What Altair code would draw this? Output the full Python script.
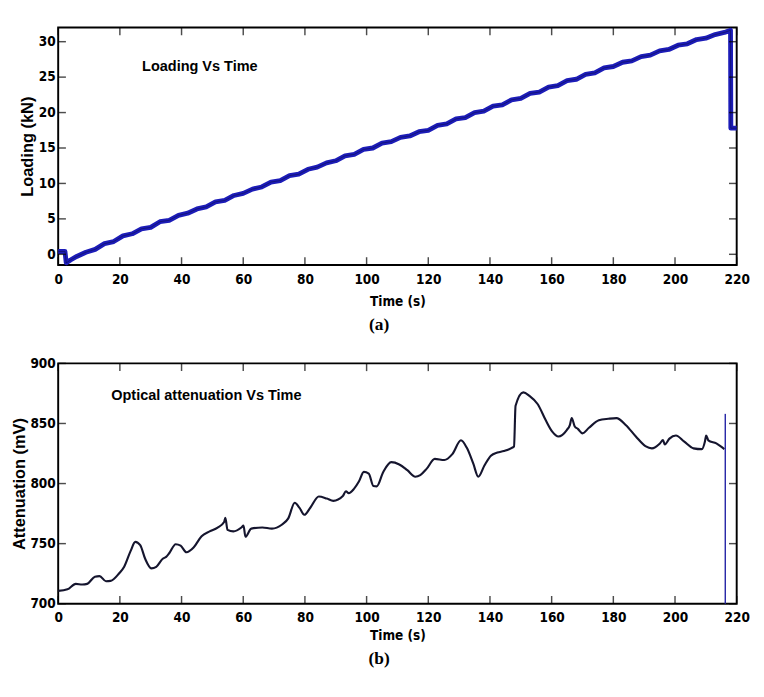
import altair as alt
import pandas as pd

# ---------------- data ----------------
load_t = [0, 2.2, 2.6, 3, 4, 6, 9, 12, 15, 18, 21, 24, 27, 30, 33, 36, 39, 42, 45, 48,
          51, 54, 57, 60, 63, 66, 69, 72, 75, 78, 81, 84, 87, 90, 93, 96, 99, 102, 105,
          108, 111, 114, 117, 120, 123, 126, 129, 132, 135, 138, 141, 144, 147, 150, 153,
          156, 159, 162, 165, 168, 171, 174, 177, 180, 183, 186, 189, 192, 195, 198, 201,
          204, 207, 210, 213, 216, 218, 218.1, 220]
load_kN = [0.4, 0.4, -1.2, -1.1, -0.8, -0.3, 0.3, 0.7, 1.5, 1.8, 2.6, 2.9, 3.6, 3.8, 4.6,
           4.8, 5.5, 5.8, 6.4, 6.7, 7.4, 7.6, 8.3, 8.6, 9.2, 9.5, 10.2, 10.4, 11.1, 11.3,
           12.0, 12.3, 12.9, 13.2, 13.9, 14.1, 14.8, 15.0, 15.7, 15.9, 16.5, 16.7, 17.3,
           17.5, 18.2, 18.4, 19.1, 19.3, 20.0, 20.2, 20.9, 21.1, 21.8, 22.0, 22.7, 22.9,
           23.6, 23.8, 24.5, 24.7, 25.4, 25.6, 26.3, 26.5, 27.1, 27.3, 27.9, 28.1, 28.7,
           28.9, 29.5, 29.7, 30.3, 30.5, 31.0, 31.3, 31.6, 17.8, 17.8]

att_t = [0, 3, 5.7, 7.8, 9.4, 11.9, 13.4, 15.5, 17, 19.8, 21.4, 23.5, 25, 26.6, 28.2, 30.2,
         31.8, 33.9, 35, 36, 38.1, 39.7, 41.6, 43.9, 46.5, 49.1, 51.7, 53.8, 54.2, 54.9,
         56.8, 59.4, 60.1, 60.7, 62.6, 66.2, 69.3, 72.5, 74.6, 76.7, 78.2, 79.8, 81.8,
         84.5, 87.1, 89.2, 92.3, 93.3, 94.2, 95.9, 97.5, 99.1, 100.7, 102.2, 103.3, 105.4,
         108, 110.6, 113.2, 115.8, 117.4, 119.5, 122.1, 125.2, 127.8, 130.6, 132.5, 134.6,
         136.2, 138.2, 140.3, 142.4, 144.5, 147.1, 147.8, 148.3, 150.8, 152.8, 155.5,
         158.1, 160.2, 162.2, 164.9, 165.9, 166.5, 167.5, 168.5, 170, 172.1, 175.3, 178.4,
         181, 184.1, 187.3, 190.4, 192.5, 195.1, 196.1, 196.7, 198.2, 200.3, 202.9, 206,
         208.7, 209.7, 210.1, 210.8, 213.4, 216]
att_mV = [710.7, 712, 716.5, 716, 716.5, 722.5, 723, 718.7, 719, 725.4, 730.8, 744, 751.5,
          748.7, 737.4, 729.4, 730.7, 737.4, 739, 742, 749.5, 748.3, 742.8, 746.8, 756.2,
          760.2, 763.4, 768, 771.5, 761.5, 760.2, 763.4, 765, 755.7, 762.5, 763.4, 762.5,
          765.7, 771, 784, 780, 774, 780.1, 789.2, 787.5, 785.6, 789.6, 793.6, 792, 795.6,
          801.7, 809.7, 808.3, 798, 797.7, 809.7, 817.8, 815.9, 811.1, 805.7, 807, 812.4,
          820.5, 819.6, 824.5, 836, 829.7, 816.5, 805.7, 815, 823.1, 825.8, 827, 829.7,
          831, 864.7, 875.9, 873, 866, 852.6, 843.2, 839.2, 844.5, 848.6, 854.5, 847.5,
          845.5, 841.8, 846.4, 852.6, 853.9, 854.5, 848.6, 839.2, 831.2, 829.3, 833.4,
          836.1, 832.5, 837.4, 840, 835.1, 829.3, 828.6, 835, 840, 836, 833.4, 828.6]

drop_t = [216.3, 216.3]
drop_mV = [858, 700]

x_ticks = [0, 20, 40, 60, 80, 100, 120, 140, 160, 180, 200, 220]
load_ticks = [0, 5, 10, 15, 20, 25, 30]
att_ticks = [700, 750, 800, 850, 900]

ann_a = {"t": [27.2], "v": [26.6], "label": ["Loading Vs Time"]}
ann_b = {"t": [17.2], "v": [873.2], "label": ["Optical attenuation Vs Time"]}

# ---------------- style ----------------
W = 703
HA = 246
HB = 249
TICK = 8
TICK_COLOR = "#000000"
LABEL_FONT = "Liberation Sans Narrow, DejaVu Sans Condensed, Liberation Sans, Arial"
TITLE_FONT = "Liberation Sans, Arial"
SERIF = "Liberation Serif, Times New Roman"


def panel(line_layers, y_domain, y_ticks, y_title, ann, H, caption,
          lab_pad_x, title_pad_x, lab_pad_y, title_pad_y):
    xs = alt.Scale(domain=[0, 220], nice=False, zero=False)
    ys = alt.Scale(domain=y_domain, nice=False, zero=False)
    x_axis = alt.Axis(values=x_ticks, ticks=False, tickSize=0,
                      domain=False, grid=False,
                      labelFont=LABEL_FONT, labelFontSize=14, labelFontWeight="bold",
                      labelColor="black", labelPadding=lab_pad_x, labelFlush=False,
                      labelOverlap=False, title="Time (s)", titleFont=LABEL_FONT,
                      titleFontSize=14, titleFontWeight="bold", titleColor="black",
                      titlePadding=title_pad_x)
    y_axis = alt.Axis(values=y_ticks, ticks=False, tickSize=0,
                      domain=False, grid=False,
                      labelFont=LABEL_FONT, labelFontSize=14, labelFontWeight="bold",
                      labelColor="black", labelPadding=lab_pad_y, labelFlush=False,
                      labelOverlap=False, title=y_title, titleFont=TITLE_FONT,
                      titleFontSize=17, titleFontWeight="bold", titleColor="black",
                      titlePadding=title_pad_y)
    layers = []
    first = True
    for df, color, width, opacity, interp in line_layers:
        if first:
            enc_x = alt.X("t:Q", scale=xs, axis=x_axis)
            enc_y = alt.Y("v:Q", scale=ys, axis=y_axis)
        else:
            enc_x = alt.X("t:Q", scale=xs)
            enc_y = alt.Y("v:Q", scale=ys)
        first = False
        layers.append(
            alt.Chart(df).mark_line(color=color, strokeWidth=width, opacity=opacity,
                                    interpolate=interp, strokeJoin="round")
            .encode(x=enc_x, y=enc_y)
        )
    layers.append(
        alt.Chart(pd.DataFrame(ann)).mark_text(align="left", baseline="middle",
                                               font=TITLE_FONT, fontSize=15,
                                               fontWeight="bold", color="black")
        .encode(x=alt.X("t:Q", scale=xs), y=alt.Y("v:Q", scale=ys), text="label:N")
    )
    # inward-pointing tick marks on all four sides (matlab box style)
    xt = pd.DataFrame({"t": x_ticks})
    yt = pd.DataFrame({"v": y_ticks})
    layers.append(alt.Chart(xt).mark_tick(color=TICK_COLOR, thickness=1.5, size=TICK,
                                          orient="vertical")
                  .encode(x=alt.X("t:Q", scale=xs), y=alt.value(H - TICK / 2)))
    layers.append(alt.Chart(xt).mark_tick(color=TICK_COLOR, thickness=1.5, size=TICK,
                                          orient="vertical")
                  .encode(x=alt.X("t:Q", scale=xs), y=alt.value(TICK / 2)))
    layers.append(alt.Chart(yt).mark_tick(color=TICK_COLOR, thickness=1.5, size=TICK,
                                          orient="horizontal")
                  .encode(y=alt.Y("v:Q", scale=ys), x=alt.value(TICK / 2)))
    layers.append(alt.Chart(yt).mark_tick(color=TICK_COLOR, thickness=1.5, size=TICK,
                                          orient="horizontal")
                  .encode(y=alt.Y("v:Q", scale=ys), x=alt.value(W - TICK / 2)))
    return alt.layer(*layers).properties(
        width=W, height=H,
        title=alt.TitleParams(caption, orient="bottom", font=SERIF, fontSize=18,
                              fontWeight="bold", color="black", offset=8, dx=-19,
                              anchor="middle"),
    )


load_df = pd.DataFrame({"t": load_t, "v": load_kN})
att_df = pd.DataFrame({"t": att_t, "v": att_mV})
drop_df = pd.DataFrame({"t": drop_t, "v": drop_mV})

chart_a = panel([(load_df, "#1c1cb8", 5, 1.0, "linear"),
                 (load_df, "#0c0c50", 1, 0.6, "linear")],
                [-1.5, 32], load_ticks, "Loading (kN)", ann_a, HA, "(a)",
                8, 9, 3, 2)

chart_b_lines = [(att_df, "#15152e", 2.2, 1.0, "monotone"),
                 (drop_df, "#2a2aa8", 1.5, 1.0, "linear")]
chart_b = panel(chart_b_lines, [700, 900], att_ticks, "Attenuation (mV)", ann_b, HB, "(b)",
                7, 5, 3, 2)

chart = (
    alt.vconcat(chart_a, chart_b, spacing=22)
    .properties(padding={"left": 1, "top": 7, "right": 5, "bottom": 5}, background="white")
    .configure_view(stroke="black", strokeWidth=2)
)

chart.save("out.html", embed_options={"renderer": "svg", "actions": False})
